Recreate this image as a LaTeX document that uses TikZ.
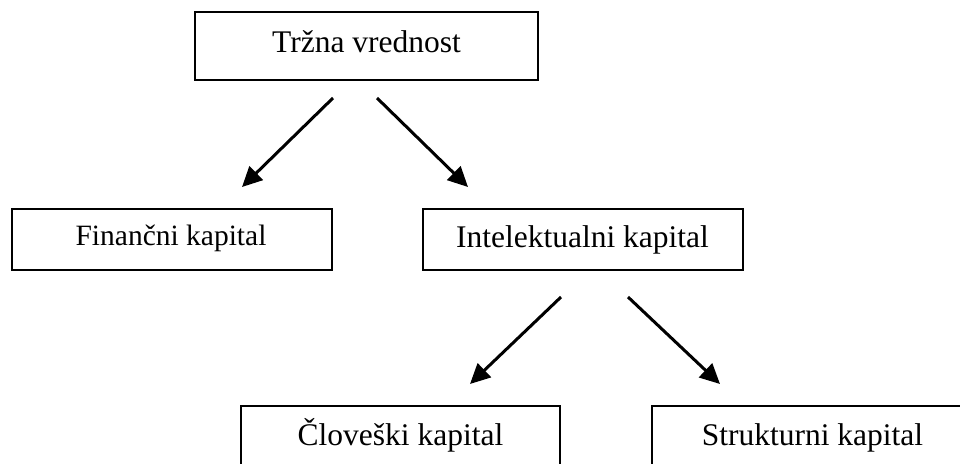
\documentclass[tikz,border=0pt]{standalone}
\usepackage{fontspec}
\setmainfont{Liberation Serif}
\usetikzlibrary{arrows.meta}
\begin{document}
\begin{tikzpicture}[x=1pt,y=-1pt,
  box/.style={draw=black, line width=1.5pt, rectangle, inner sep=0pt},
  txt/.style={anchor=base, inner sep=0pt, font=\fontsize{31.5}{36}\selectfont},
  link/.style={line width=3pt, -{Triangle[length=20pt,width=19pt]}}]
  \clip (0,0) rectangle (960,463);
  \fill[white] (0,0) rectangle (960,463);

  % boxes
  \node[box, minimum width=343pt, minimum height=68pt] (top) at (366.5,46) {};
  \node[box, minimum width=320pt, minimum height=61pt] (fin) at (172,239.5) {};
  \node[box, minimum width=320pt, minimum height=61pt] (int) at (583,239.5) {};
  \node[box, minimum width=319pt, minimum height=70pt] (clo) at (400.5,441) {};
  \node[box, minimum width=321pt, minimum height=70pt] (str) at (812.5,441) {};

  % labels
  \node[txt] (topt) at (366.5,52) {Tržna vrednost};
  \node[txt, font=\fontsize{29.5}{34}\selectfont] (fint) at (171,245) {Finančni kapital};
  \node[txt] (intt) at (582.5,247) {Intelektualni kapital};
  \node[txt] (clot) at (400.5,445) {Človeški kapital};
  \node[txt] (strt) at (812.5,445) {Strukturni kapital};

  % arrow end points
  \coordinate (a1s) at (333,98);  \coordinate (a1e) at (242,187);
  \coordinate (a2s) at (377,98);  \coordinate (a2e) at (468,187);
  \coordinate (a3s) at (561,297); \coordinate (a3e) at (470,384);
  \coordinate (a4s) at (628,297); \coordinate (a4e) at (720,384);

  \draw[link] (a1s) -- (a1e);
  \draw[link] (a2s) -- (a2e);
  \draw[link] (a3s) -- (a3e);
  \draw[link] (a4s) -- (a4e);
\end{tikzpicture}
\end{document}
